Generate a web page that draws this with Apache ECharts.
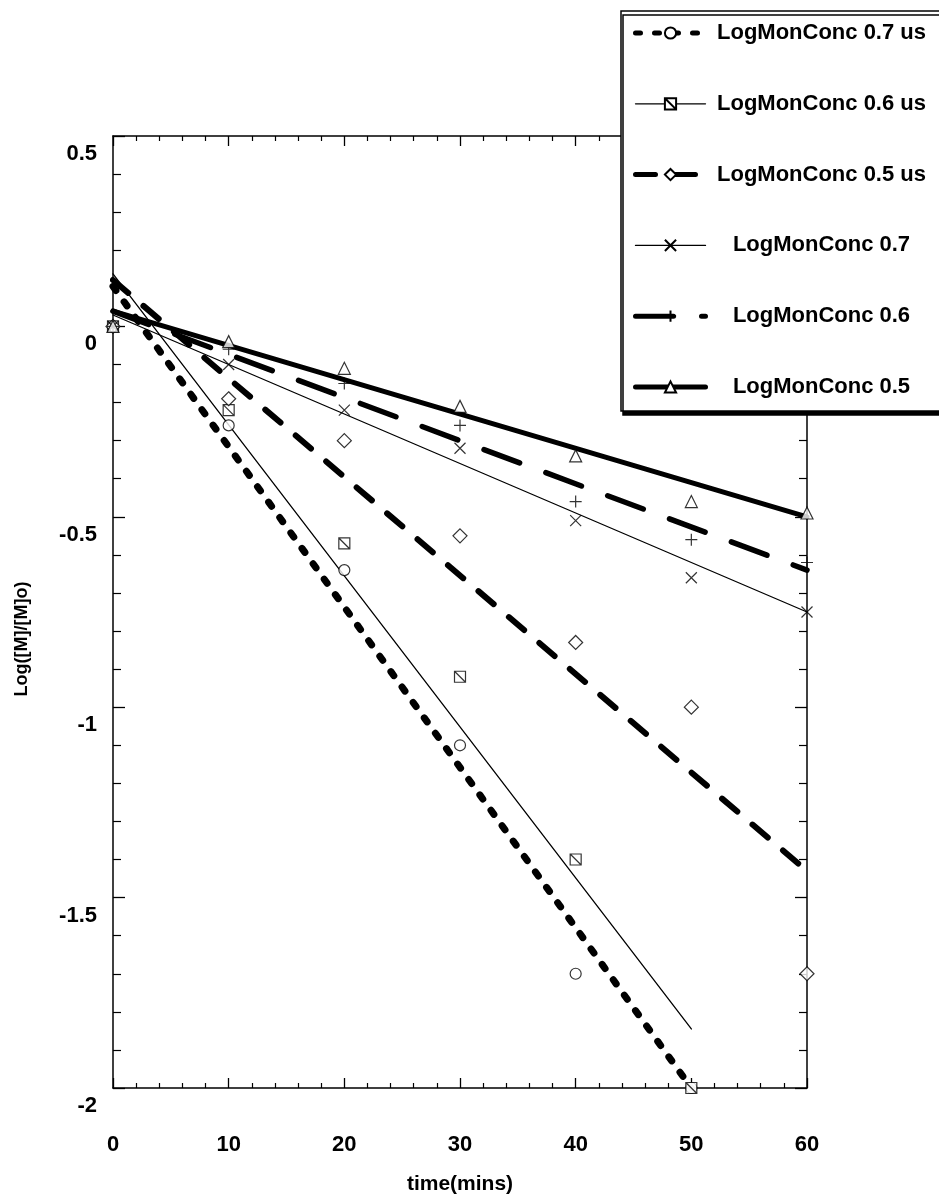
<!DOCTYPE html>
<html>
<head>
<meta charset="utf-8">
<script src="https://cdn.jsdelivr.net/npm/echarts@6/dist/echarts.min.js"></script>
<style>
html, body { margin: 0; padding: 0; background: #fff; }
#chart { width: 939px; height: 1200px; }
</style>
</head>
<body>
<div id="chart"></div>
<script>
// series names as in the legend
var names = ['LogMonConc 0.7 us', 'LogMonConc 0.6 us', 'LogMonConc 0.5 us',
             'LogMonConc 0.7', 'LogMonConc 0.6', 'LogMonConc 0.5'];

// measured points [time(mins), Log([M]/[M]o)]
var pts07us = [[0, 0], [10, -0.26], [20, -0.64], [30, -1.10], [40, -1.70], [50, -2.00]];
var pts06us = [[0, 0], [10, -0.22], [20, -0.57], [30, -0.92], [40, -1.40], [50, -2.00]];
var pts05us = [[0, 0], [10, -0.19], [20, -0.30], [30, -0.55], [40, -0.83], [50, -1.00], [60, -1.70]];
var pts07 = [[0, 0], [10, -0.10], [20, -0.22], [30, -0.32], [40, -0.51], [50, -0.66], [60, -0.75]];
var pts06 = [[0, 0], [10, -0.06], [20, -0.15], [30, -0.26], [40, -0.46], [50, -0.56], [60, -0.62]];
var pts05 = [[0, 0], [10, -0.04], [20, -0.11], [30, -0.21], [40, -0.34], [50, -0.46], [60, -0.49]];

// fitted lines, start and end
var fit07us = [[0, 0.105], [50, -2.0]];
var fit06us = [[0, 0.138], [50, -1.845]];
var fit05us = [[0, 0.122], [60, -1.43]];
var fit07 = [[0, 0.03], [60, -0.75]];
var fit06 = [[0, 0.04], [60, -0.64]];
var fit05 = [[0, 0.04], [60, -0.50]];

var xTicks = [0, 60, 10];      // min, max, interval
var yTicks = [-2, 0.5, 0.5];

var font = '"Liberation Sans", Arial, sans-serif';

var symRectSlash = 'path://M0,0L10,0L10,10L0,10Z M0,0L10,10';
var symCross = 'path://M0,0L10,10M10,0L0,10';
var symPlus = 'path://M5,0L5,10M0,5L10,5';

var styles = [
    { pts: pts07us, fit: fit07us, symbol: 'circle', size: 11, width: 7, type: [5, 14] },
    { pts: pts06us, fit: fit06us, symbol: symRectSlash, size: 11, width: 1.3, type: 'solid' },
    { pts: pts05us, fit: fit05us, symbol: 'diamond', size: 14, width: 6, type: [20, 20] },
    { pts: pts07, fit: fit07, symbol: symCross, size: 11, width: 1.3, type: 'solid' },
    { pts: pts06, fit: fit06, symbol: symPlus, size: 12, width: 5.5, type: [38, 28] },
    { pts: pts05, fit: fit05, symbol: 'triangle', size: 12, width: 5, type: 'solid' }
];

var hollow = { color: '#fff', borderColor: '#000', borderWidth: 1.2 };

var series = [];
// lines first so the legend icons take their style
styles.forEach(function (s, i) {
    series.push({
        name: names[i],
        type: 'line',
        data: s.fit,
        showSymbol: false,
        symbol: s.symbol,
        symbolSize: s.size,
        itemStyle: hollow,
        lineStyle: { color: '#000', width: s.width, type: s.type, cap: 'round' },
        silent: true,
        z: 2
    });
});
styles.forEach(function (s, i) {
    series.push({
        name: names[i],
        type: 'scatter',
        data: s.pts,
        symbol: s.symbol,
        symbolSize: s.size,
        itemStyle: hollow,
        silent: true,
        z: 3
    });
});

var legendData = names.map(function (n, i) {
    return { name: n, lineStyle: { width: Math.min(styles[i].width, 5), type: styles[i].type, cap: 'round' } };
});

function xAxisOf(pos, labels) {
    return {
        type: 'value', position: pos,
        min: xTicks[0], max: xTicks[1], interval: xTicks[2],
        name: labels ? 'time(mins)' : '',
        nameLocation: 'middle', nameGap: 86,
        nameTextStyle: { fontSize: 21, fontWeight: 'bold', color: '#000', fontFamily: font },
        axisLine: { show: true, onZero: false, lineStyle: { color: '#000', width: 1.5 } },
        axisTick: { show: true, inside: true, length: 10, lineStyle: { color: '#000', width: 1.3 } },
        minorTick: { show: true, splitNumber: 5, length: 5, lineStyle: { color: '#000', width: 1.2 } },
        splitLine: { show: false },
        axisLabel: { show: labels, margin: 46, fontSize: 22, fontWeight: 'bold', color: '#000', fontFamily: font }
    };
}

function yAxisOf(pos, labels) {
    return {
        type: 'value', position: pos,
        min: yTicks[0], max: yTicks[1], interval: yTicks[2],
        name: labels ? 'Log([M]/[M]o)' : '',
        nameLocation: 'middle', nameGap: 82,
        nameTextStyle: { fontSize: 18, fontWeight: 'bold', color: '#000', fontFamily: font, padding: [0, 54, 0, 0] },
        axisLine: { show: true, onZero: false, lineStyle: { color: '#000', width: 1.5 } },
        axisTick: { show: true, inside: true, length: 12, lineStyle: { color: '#000', width: 1.3 } },
        minorTick: { show: true, splitNumber: 5, length: 8, lineStyle: { color: '#000', width: 1.2 } },
        splitLine: { show: false },
        // labels sit a little below their ticks, as in the original
        axisLabel: { show: labels, margin: 16, verticalAlign: 'top', lineHeight: 36, fontSize: 22, fontWeight: 'bold', color: '#000', fontFamily: font }
    };
}

var chart = echarts.init(document.getElementById('chart'));
chart.setOption({
    animation: false,
    backgroundColor: '#fff',
    grid: { left: 113, top: 136, width: 694, height: 955, containLabel: false },
    xAxis: [xAxisOf('bottom', true), xAxisOf('top', false)],
    yAxis: [yAxisOf('left', true), yAxisOf('right', false)],
    legend: {
        orient: 'vertical',
        left: 621, top: 11,
        data: legendData,
        selectedMode: false,
        itemWidth: 70, itemHeight: 14, itemGap: 48.8,
        padding: [11, 30, 13, 12],
        backgroundColor: '#fff',
        borderColor: '#000', borderWidth: 1.5,
        shadowColor: '#000', shadowBlur: 0, shadowOffsetX: 2, shadowOffsetY: 4,
        formatter: function (n) { return '{t|' + n + '}'; },
        textStyle: {
            color: '#000', fontSize: 22, fontWeight: 'bold', fontFamily: font,
            rich: { t: { width: 222, align: 'center', fontSize: 22, fontWeight: 'bold', lineHeight: 24, fontFamily: font, color: '#000' } }
        },
        z: 10
    },
    series: series
});
</script>
</body>
</html>
